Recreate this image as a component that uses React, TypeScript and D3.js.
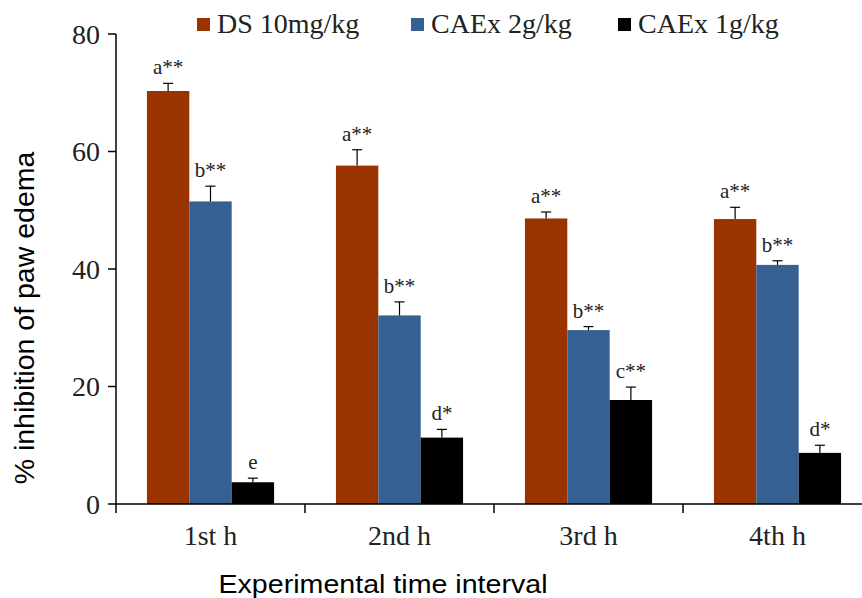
import * as d3 from "d3";

const categories = ["1st h", "2nd h", "3rd h", "4th h"];
const seriesNames = ["DS 10mg/kg", "CAEx 2g/kg", "CAEx 1g/kg"];
const seriesColors = ["#993300", "#376092", "#000000"];

// mean % inhibition for each series, per hour
const dsValues = [70.3, 57.6, 48.6, 48.5];
const caex2Values = [51.5, 32.1, 29.6, 40.7];
const caex1Values = [3.7, 11.3, 17.7, 8.7];

// error bar (SEM) sizes
const dsErrors = [1.3, 2.7, 1.1, 2.0];
const caex2Errors = [2.6, 2.3, 0.6, 0.7];
const caex1Errors = [0.7, 1.4, 2.2, 1.3];

// significance letters above bars
const dsLabels = ["a**", "a**", "a**", "a**"];
const caex2Labels = ["b**", "b**", "b**", "b**"];
const caex1Labels = ["e", "d*", "c**", "d*"];

const yTicks = [0, 20, 40, 60, 80];

const values = [dsValues, caex2Values, caex1Values];
const errors = [dsErrors, caex2Errors, caex1Errors];
const labels = [dsLabels, caex2Labels, caex1Labels];

const W = 862;
const H = 598;
const serif = "'Liberation Serif', 'Times New Roman', serif";
const sans = "'Liberation Sans', Arial, sans-serif";

const x0 = d3.scaleBand().domain(categories).range([116, 872]).padding(0);
const x1 = d3
  .scaleBand()
  .domain(seriesNames)
  .range([0, x0.bandwidth()])
  .paddingInner(0)
  .paddingOuter(0.73);
const y = d3.scaleLinear().domain([0, 80]).range([504, 34]);

const legendX = [197, 411, 618];

function App() {
  const boundaries = [...categories.map((c) => x0(c)!), x0.range()[1]];
  return (
    <svg
      width={W}
      height={H}
      style={{ position: "absolute", left: 0, top: 0, background: "#fff" }}
    >
      {/* bars */}
      {seriesNames.map((s, si) =>
        categories.map((c, ci) => {
          const v = values[si][ci];
          const bx = x0(c)! + x1(s)!;
          return (
            <rect
              key={s + c}
              x={bx}
              y={y(v)}
              width={x1.bandwidth()}
              height={y(0) - y(v)}
              fill={seriesColors[si]}
            />
          );
        })
      )}
      {/* error bars + labels */}
      {seriesNames.map((s, si) =>
        categories.map((c, ci) => {
          const v = values[si][ci];
          const e = errors[si][ci];
          const cx = x0(c)! + x1(s)! + x1.bandwidth() / 2;
          return (
            <g key={"e" + s + c}>
              <line x1={cx} x2={cx} y1={y(v)} y2={y(v + e)} stroke="#000" strokeWidth={1.2} />
              <line x1={cx - 5} x2={cx + 5} y1={y(v + e)} y2={y(v + e)} stroke="#000" strokeWidth={1.2} />
              <text
                x={cx}
                y={y(v + e) - 9}
                textAnchor="middle"
                fontFamily={serif}
                fontSize={21}
                fill="#222"
              >
                {labels[si][ci]}
              </text>
            </g>
          );
        })
      )}
      {/* y axis */}
      <line x1={116} x2={116} y1={y(80)} y2={y(0)} stroke="#000" strokeWidth={1.5} />
      {yTicks.map((t) => (
        <g key={t}>
          <line x1={108} x2={116} y1={y(t)} y2={y(t)} stroke="#000" strokeWidth={1.5} />
          <text
            x={100}
            y={y(t)}
            dy="0.35em"
            textAnchor="end"
            fontFamily={serif}
            fontSize={28}
            fill="#222"
          >
            {t}
          </text>
        </g>
      ))}
      {/* x axis */}
      <line x1={116} x2={872} y1={y(0)} y2={y(0)} stroke="#000" strokeWidth={1.5} />
      {boundaries.map((b, i) => (
        <line key={i} x1={b} x2={b} y1={y(0)} y2={y(0) + 9} stroke="#000" strokeWidth={1.5} />
      ))}
      {categories.map((c) => (
        <text
          key={c}
          x={x0(c)! + x0.bandwidth() / 2}
          y={545}
          textAnchor="middle"
          fontFamily={serif}
          fontSize={28}
          fill="#222"
        >
          {c}
        </text>
      ))}
      {/* axis titles */}
      <text
        transform="translate(383,593) scale(1.1,1)"
        textAnchor="middle"
        fontFamily={sans}
        fontSize={26}
        fill="#000"
      >
        Experimental time interval
      </text>
      <text
        transform="translate(34,318) rotate(-90)"
        textAnchor="middle"
        fontFamily={sans}
        fontSize={28.5}
        fill="#000"
      >
        % inhibition of paw edema
      </text>
      {/* legend */}
      {seriesNames.map((s, i) => (
        <g key={"l" + s} transform={`translate(${legendX[i]},0)`}>
          <rect x={0} y={18} width={13} height={13} fill={seriesColors[i]} />
          <text x={20} y={33} fontFamily={serif} fontSize={28} fill="#222">
            {s}
          </text>
        </g>
      ))}
    </svg>
  );
}

export default App;
